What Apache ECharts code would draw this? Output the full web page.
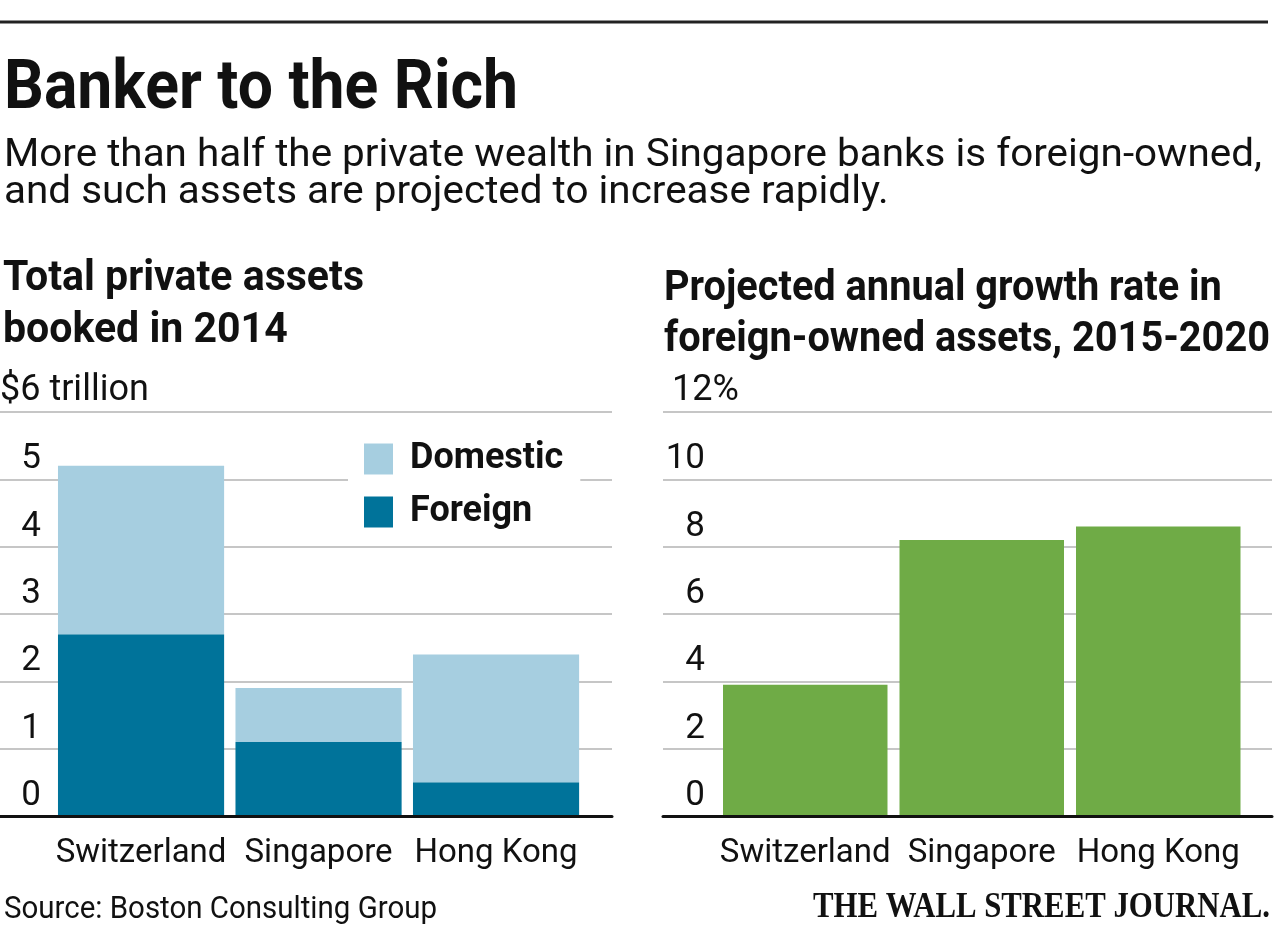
<!DOCTYPE html>
<html>
<head>
<meta charset="utf-8">
<script src="https://cdn.jsdelivr.net/npm/echarts@6/dist/echarts.min.js"></script>
<style>
html,body{margin:0;padding:0;background:#fff;}
#c{width:1280px;height:942px;}
</style>
</head>
<body>
<div id="c"></div>
<script>
// ---- data ----
const categories = ['Switzerland', 'Singapore', 'Hong Kong'];
const foreignAssets = [2.7, 1.1, 0.5];      // $ trillion
const domesticAssets = [2.5, 0.8, 1.9];     // $ trillion
const growthRate = [3.9, 8.2, 8.6];         // % per year
const assetTicks = ['0', '1', '2', '3', '4', '5', '$6 trillion'];
const growthTicks = ['0', '2', '4', '6', '8', '10', '12%'];
const legendNames = ['Domestic', 'Foreign'];
const titleText = 'Banker to the Rich';
const subtitleLines = ['More than half the private wealth in Singapore banks is foreign-owned,',
                       'and such assets are projected to increase rapidly.'];
const leftHeader = ['Total private assets', 'booked in 2014'];
const rightHeader = ['Projected annual growth rate in', 'foreign-owned assets, 2015-2020'];
const sourceText = 'Source: Boston Consulting Group';
const logoText = 'THE WALL STREET JOURNAL.';

// ---- text helpers ----
const mctx = document.createElement('canvas').getContext('2d');
function measureW(str, font) { mctx.font = font; mctx.textBaseline = 'middle'; return mctx.measureText(str).width; }
function midToBase(font) { mctx.font = font; mctx.textBaseline = 'middle'; return mctx.measureText('H').actualBoundingBoxDescent; }
function textEl(str, font, x, baseline, sx, color) {
  return {
    type: 'text', x: x, y: baseline - midToBase(font), scaleX: sx, scaleY: 1, silent: true, z: 20,
    style: { text: str, font: font, fill: color || '#111', align: 'left', verticalAlign: 'middle',
             textAlign: 'left', textVerticalAlign: 'middle' }
  };
}

const FAM = 'Roboto';
const INK = '#111';
const titleFont = 'bold 68px ' + FAM;
const subFont = 'normal 39px ' + FAM;
const headFont = 'bold 42px ' + FAM;
const srcFont = 'normal 32px ' + FAM;
const logoFont = 'bold 36px "Liberation Serif"';

const sTitle = 514 / measureW(titleText, titleFont);
const sSub = 1258 / measureW(subtitleLines[0], subFont);
const sLeftHead = 361 / measureW(leftHeader[0], headFont);
const sRightHead = 606 / measureW(rightHeader[1], headFont);
const sSrc = 433 / measureW(sourceText, srcFont);
const sLogo = 457 / measureW(logoText, logoFont);

// axis label metrics
const tickSize = 35;
const tickK = midToBase('normal ' + tickSize + 'px ' + FAM);
const tickLH = 2 * (tickK + 11);
const catSize = 33;
const catK = midToBase('normal ' + catSize + 'px ' + FAM);
const catMargin = 46 - catSize / 2 - catK;
const unitSize = 36;
const unitK = midToBase('normal ' + unitSize + 'px ' + FAM);
const unitGap = 12 + unitK;

const GRID_TOP = 412, GRID_H = 404;
const gridLine = { show: true, lineStyle: { color: '#c6c6c6', width: 2 } };

function frameX(gi) {
  return { gridIndex: gi, type: 'category', data: [''], z: 10,
    axisLine: { show: true, lineStyle: { color: INK, width: 3 } },
    axisTick: { show: false }, axisLabel: { show: false }, splitLine: { show: false } };
}
function barX(gi) {
  return { gridIndex: gi, type: 'category', data: categories,
    axisLine: { show: false }, axisTick: { show: false }, splitLine: { show: false },
    axisLabel: { interval: 0, margin: catMargin, color: INK, fontFamily: FAM, fontSize: catSize, lineHeight: catSize } };
}
function frameY(gi, max, interval, ticks, margin, namePadLeft) {
  return { gridIndex: gi, type: 'value', min: 0, max: max, interval: interval,
    name: ticks[ticks.length - 1], nameLocation: 'end', nameGap: unitGap, nameMoveOverlap: false,
    nameTextStyle: { color: INK, fontFamily: FAM, fontSize: unitSize, align: 'left', verticalAlign: 'middle',
                     padding: [0, 0, 0, namePadLeft] },
    axisLine: { show: false }, axisTick: { show: false }, splitLine: gridLine,
    axisLabel: { inside: true, align: 'right', verticalAlign: 'bottom', margin: margin, lineHeight: tickLH,
                 color: INK, fontFamily: FAM, fontSize: tickSize,
                 formatter: function (v) { return v >= max ? '' : ticks[Math.round(v / interval)]; } } };
}
function hiddenY(gi, max, interval) {
  return { gridIndex: gi, type: 'value', min: 0, max: max, interval: interval, show: false };
}

const chart = echarts.init(document.getElementById('c'), null, { renderer: 'canvas' });
chart.setOption({
  animation: false,
  backgroundColor: '#fff',
  textStyle: { fontFamily: FAM },
  grid: [
    { left: 0, top: GRID_TOP, width: 612, height: GRID_H, outerBoundsMode: 'none', containLabel: false },
    { left: 52.3, top: GRID_TOP, width: 532.5, height: GRID_H, outerBoundsMode: 'none', containLabel: false },
    { left: 663, top: GRID_TOP, width: 609, height: GRID_H, outerBoundsMode: 'none', containLabel: false },
    { left: 717, top: GRID_TOP, width: 529.5, height: GRID_H, outerBoundsMode: 'none', containLabel: false }
  ],
  xAxis: [frameX(0), barX(1), frameX(2), barX(3)],
  yAxis: [
    frameY(0, 6, 1, assetTicks, 41, 0),
    hiddenY(1, 6, 1),
    frameY(2, 12, 2, growthTicks, 42, 9),
    hiddenY(3, 12, 2)
  ],
  legend: {
    data: legendNames, orient: 'vertical', left: 348, top: 425,
    padding: [16, 17, 16, 16], itemWidth: 29, itemHeight: 31, itemGap: 17,
    backgroundColor: '#fff', icon: 'rect', selectedMode: false, z: 5,
    itemStyle: { borderWidth: 0 },
    textStyle: { color: INK, fontFamily: FAM, fontWeight: 'bold', fontSize: 36, lineHeight: 31, padding: [0, 0, 0, 12] }
  },
  series: [
    { name: 'Foreign', type: 'bar', xAxisIndex: 1, yAxisIndex: 1, stack: 'assets', data: foreignAssets,
      barCategoryGap: '6.4%', itemStyle: { color: '#00739a', borderRadius: 0 }, emphasis: { disabled: true } },
    { name: 'Domestic', type: 'bar', xAxisIndex: 1, yAxisIndex: 1, stack: 'assets', data: domesticAssets,
      barCategoryGap: '6.4%', itemStyle: { color: '#a6cee0', borderRadius: 0 }, emphasis: { disabled: true } },
    { name: 'Growth', type: 'bar', xAxisIndex: 3, yAxisIndex: 3, data: growthRate,
      barCategoryGap: '6.8%', itemStyle: { color: '#6fab46', borderRadius: 0 }, emphasis: { disabled: true } }
  ],
  graphic: [
    { type: 'line', silent: true, shape: { x1: 0, y1: 22, x2: 1268, y2: 22 }, style: { stroke: '#222', lineWidth: 3 } },
    textEl(titleText, titleFont, 4, 108, sTitle, INK),
    textEl(subtitleLines[0], subFont, 4, 166, sSub, INK),
    textEl(subtitleLines[1], subFont, 4, 203, sSub, INK),
    textEl(leftHeader[0], headFont, 3, 290, sLeftHead, INK),
    textEl(leftHeader[1], headFont, 3, 342, sLeftHead, INK),
    textEl(rightHeader[0], headFont, 664, 300, sRightHead, INK),
    textEl(rightHeader[1], headFont, 664, 351, sRightHead, INK),
    textEl(sourceText, srcFont, 4, 918, sSrc, INK),
    textEl(logoText, logoFont, 813, 917, sLogo, INK)
  ]
});
</script>
</body>
</html>
